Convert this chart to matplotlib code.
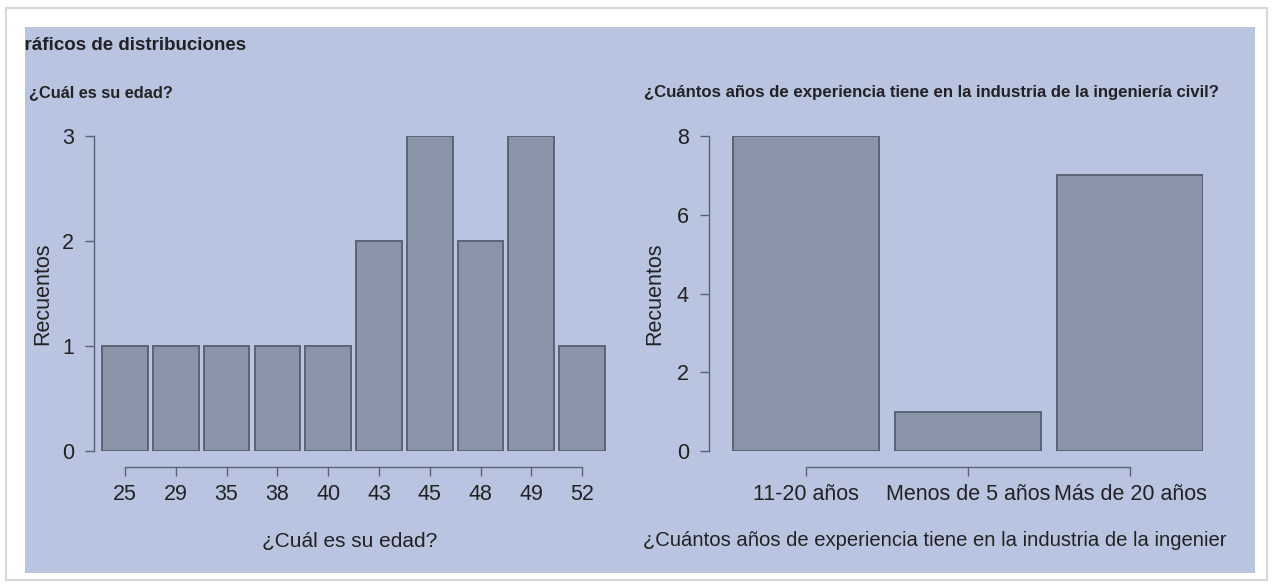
import matplotlib.pyplot as plt
from matplotlib.patches import Rectangle

plt.rcParams['font.family'] = ['Liberation Sans', 'DejaVu Sans']

# data
edad_labels = ['25', '29', '35', '38', '40', '43', '45', '48', '49', '52']
edad_counts = [1, 1, 1, 1, 1, 2, 3, 2, 3, 1]
exp_labels = ['11-20 años', 'Menos de 5 años', 'Más de 20 años']
exp_counts = [8, 1, 7]

W, H = 1272, 586
panel_col = '#b9c4e1'
bar_col = '#8a94a8'
edge_col = '#5a6478'
axis_col = '#5c6272'
txt_col = '#222222'

fig = plt.figure(figsize=(W / 100, H / 100), dpi=100)
fig.patch.set_facecolor('white')

def px(x, y):
    return x / W, 1 - y / H

# screenshot frame and panel
frame = Rectangle(px(6, 580), (1267 - 6) / W, (580 - 8) / H, transform=fig.transFigure,
                  facecolor='white', edgecolor='#d8d8d8', lw=1.5, zorder=-2)
fig.patches.append(frame)
panel = Rectangle(px(25, 573), (1255 - 25) / W, (573 - 27) / H, transform=fig.transFigure,
                  facecolor=panel_col, edgecolor='none', zorder=-1)
fig.patches.append(panel)

t = fig.text(*px(10, 45), 'Gráficos de distribuciones', fontsize=13.5, fontweight='bold',
             color=txt_col, va='center', ha='left')
t.set_clip_path(panel)
fig.text(*px(29, 93), '¿Cuál es su edad?', fontsize=11.8, fontweight='bold',
         color=txt_col, va='center', ha='left')
fig.text(*px(644, 93), '¿Cuántos años de experiencia tiene en la industria de la ingeniería civil?',
         fontsize=12.1, fontweight='bold', color=txt_col, va='center', ha='left')


def style(ax, ymax, yticks, nbars):
    ax.set_facecolor('none')
    for s in ['top', 'right']:
        ax.spines[s].set_visible(False)
    ax.spines['left'].set_bounds(0, ymax)
    ax.spines['bottom'].set_position(('outward', 11.5))
    ax.spines['bottom'].set_bounds(0, nbars - 1)
    for s in ['left', 'bottom']:
        ax.spines[s].set_color(axis_col)
        ax.spines[s].set_linewidth(1.0)
    ax.set_ylim(0, ymax)
    ax.set_yticks(yticks)
    ax.set_xticks(range(nbars))
    ax.tick_params(colors=axis_col, labelcolor=txt_col, labelsize=15.5, length=6.5, width=1.0)
    ax.tick_params(axis='y', pad=8)
    ax.tick_params(axis='x', pad=6)
    ax.set_ylabel('Recuentos', fontsize=15.5, color=txt_col)


bottom = (H - 451) / H
height = 315 / H

# left: age histogram
ax1 = fig.add_axes([94 / W, bottom, 512 / W, height])
ax1.bar(range(len(edad_counts)), edad_counts, width=0.9, color=bar_col,
        edgecolor=edge_col, linewidth=1.4)
ax1.set_xlim(-0.61, 9.47)
style(ax1, 3, [0, 1, 2, 3], len(edad_counts))
ax1.set_xticklabels(edad_labels)
ax1.yaxis.set_label_coords(-0.08, 0.5)
ax1.set_xlabel('¿Cuál es su edad?', fontsize=15, color=txt_col)
ax1.xaxis.set_label_coords(0.5, -0.286)
ax1.xaxis.label.set_va('center')

# right: experience
ax2 = fig.add_axes([709 / W, bottom, 494 / W, height])
ax2.bar(range(len(exp_counts)), exp_counts, width=0.9, color=bar_col,
        edgecolor=edge_col, linewidth=1.4)
ax2.set_xlim(-0.6, 2.45)
style(ax2, 8, [0, 2, 4, 6, 8], len(exp_counts))
ax2.set_xticklabels(exp_labels)
ax2.yaxis.set_label_coords(-0.089, 0.5)
fig.text(*px(643, 541), '¿Cuántos años de experiencia tiene en la industria de la ingenier',
         fontsize=14.6, color=txt_col, va='center', ha='left')

fig.savefig('out.png', dpi=100, facecolor='white')
